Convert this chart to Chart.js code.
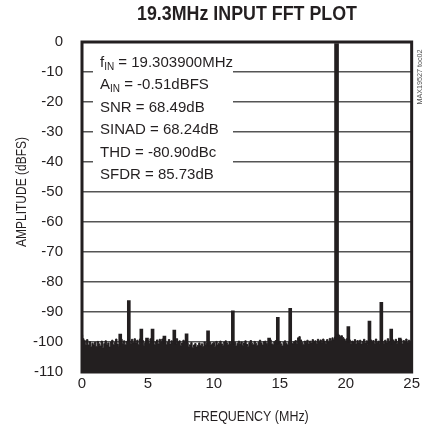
<!DOCTYPE html>
<html>
<head>
<meta charset="utf-8">
<script src="https://cdn.jsdelivr.net/npm/chart.js@4/dist/chart.umd.min.js"></script>
<style>
  html, body { margin: 0; padding: 0; background: #fff; }
</style>
</head>
<body>
<canvas id="fftChart" width="423" height="435"></canvas>
<script>
// FFT plot of a 19.3MHz input tone
const INK = '#231f20';
const SANS = "'Liberation Sans', Arial, Helvetica, sans-serif";

const xTickValues = [0, 5, 10, 15, 20, 25];
const yTickValues = [0, -10, -20, -30, -40, -50, -60, -70, -80, -90, -100, -110];

// fundamental tone
const fundFreq = 19.3039;
const fundLevel = -0.51;

// harmonics and spurs above the noise floor (MHz, dBFS)
const spurFreqs = [2.9, 3.55, 4.5, 4.93, 5.35, 6.25, 7.0, 7.93, 9.56, 11.44, 14.19, 14.85, 15.79, 20.2, 21.8, 22.7, 23.45, 24.1];
const spurLevels = [-97.4, -86.2, -95.7, -98.7, -95.7, -98.0, -96.0, -97.3, -96.3, -89.6, -98.7, -91.8, -88.8, -94.9, -93.0, -86.8, -95.7, -98.7];

// noise floor envelope, one value every 0.1MHz from 0 to 25MHz
const noiseStep = 0.1;
const noiseLevels = [
  -97.6, -98.9, -99.5, -100.8, -99.2, -101.0, -99.9, -101.6, -100.4, -100.9,
  -100.1, -101.5, -99.8, -100.6, -101.3, -99.7, -101.9, -100.5, -99.6, -101.0,
  -100.3, -101.7, -100.0, -99.4, -100.9, -100.2, -99.0, -100.7, -101.4, -99.7,
  -99.1, -100.5, -99.6, -100.9, -99.8, -99.2, -99.7, -100.6, -99.1, -100.2,
  -98.9, -100.3, -99.4, -100.8, -99.0, -99.9, -99.5, -101.1, -100.2, -99.3,
  -99.6, -100.5, -98.9, -100.1, -99.7, -100.9, -100.0, -99.3, -100.6, -99.1,
  -99.8, -99.0, -100.4, -99.5, -100.9, -100.1, -99.2, -100.7, -99.6, -100.3,
  -99.4, -100.7, -98.9, -100.0, -99.6, -101.2, -100.3, -99.4, -99.9, -99.1,
  -100.4, -101.6, -100.9, -100.2, -101.8, -101.0, -100.5, -101.7, -101.1, -100.3,
  -101.2, -100.6, -101.5, -100.0, -100.8, -100.4, -101.3, -100.1, -100.9, -100.5,
  -100.2, -101.4, -99.8, -101.0, -100.4, -99.7, -100.6, -101.2, -100.0, -99.6,
  -100.3, -100.9, -99.9, -100.5, -99.4, -100.7, -100.1, -101.3, -100.4, -99.7,
  -100.6, -100.0, -101.1, -100.3, -99.6, -100.7, -101.4, -100.2, -99.5, -100.4,
  -100.9, -99.8, -100.5, -101.2, -100.1, -99.4, -100.3, -101.0, -99.9, -99.7,
  -100.4, -101.1, -100.0, -99.3, -100.6, -100.8, -99.9, -99.5, -100.7, -100.2,
  -99.8, -100.6, -101.3, -100.1, -99.6, -100.4, -100.9, -100.0, -99.4, -100.3,
  -100.7, -99.9, -99.5, -100.5, -98.6, -98.2, -99.3, -100.2, -100.8, -99.7,
  -100.1, -99.4, -100.6, -99.7, -100.3, -99.2, -100.0, -99.6, -100.4, -99.1,
  -99.8, -99.3, -100.2, -99.0, -99.7, -100.5, -99.2, -99.9, -98.8, -99.4,
  -98.6, -99.2, -98.3, -97.8, -97.4, -97.7, -98.1, -97.9, -98.5, -99.0,
  -99.6, -98.9, -100.1, -99.3, -100.4, -99.7, -100.0, -99.2, -100.6, -99.5,
  -100.2, -99.4, -100.7, -99.8, -99.1, -100.3, -99.6, -100.8, -100.0, -99.3,
  -99.9, -99.5, -100.4, -99.0, -100.1, -99.7, -100.6, -99.2, -99.8, -100.5,
  -99.4, -100.2, -98.9, -100.0, -99.6, -100.7, -99.3, -99.9, -99.1, -100.4,
  -99.7, -100.3, -99.2, -100.6, -99.5, -100.0, -99.0, -100.2, -99.4, -99.8,
  -99.6
];

// measurement summary shown in the box: [main, subscript, rest]
const statLines = [
  ['f', 'IN', ' = 19.303900MHz'],
  ['A', 'IN', ' = -0.51dBFS'],
  ['SNR = 68.49dB', '', ''],
  ['SINAD = 68.24dB', '', ''],
  ['THD = -80.90dBc', '', ''],
  ['SFDR = 85.73dB', '', '']
];

const plotTitle = '19.3MHz INPUT FFT PLOT';
const xTitle = 'FREQUENCY (MHz)';
const yTitle = 'AMPLITUDE (dBFS)';
const docCode = 'MAX19527 toc02';

const noiseData = noiseLevels.map((v, i) => ({ x: i * noiseStep, y: v }));
const spurData = spurFreqs.map((f, i) => ({ x: f, y: [-110, spurLevels[i]] }));
const fundData = [{ x: fundFreq, y: [-110, fundLevel] }];

// draws text squeezed horizontally by sx (condensed look)
function squeezedText(ctx, text, x, y, font, sx, rot) {
  ctx.save();
  ctx.translate(x, y);
  if (rot) ctx.rotate(rot);
  ctx.scale(sx, 1);
  ctx.font = font;
  ctx.textAlign = 'center';
  ctx.textBaseline = 'middle';
  ctx.fillText(text, 0, 0);
  ctx.restore();
}

// title, frame, axis titles, stats box and side label
const decorPlugin = {
  id: 'decor',
  afterDraw(chart) {
    const ctx = chart.ctx;
    const a = chart.chartArea;
    ctx.save();
    ctx.fillStyle = INK;

    // frame
    ctx.strokeStyle = INK;
    ctx.lineWidth = 3;
    ctx.strokeRect(a.left, a.top, a.right - a.left, a.bottom - a.top);

    // chart title, fitted to 220px
    const titleFont = 'bold 20px ' + SANS;
    ctx.font = titleFont;
    const tw = ctx.measureText(plotTitle).width;
    squeezedText(ctx, plotTitle, 247, 14, titleFont, 220 / tw, 0);

    // axis titles
    squeezedText(ctx, xTitle, 251, 417, '15px ' + SANS, 0.83, 0);
    squeezedText(ctx, yTitle, 22, 192, '15px ' + SANS, 0.8, -Math.PI / 2);

    // stats box
    ctx.fillStyle = '#fff';
    ctx.fillRect(a.left + 11, 50, 140, 134);
    ctx.fillStyle = INK;
    ctx.textAlign = 'left';
    ctx.textBaseline = 'alphabetic';
    let y = 67;
    statLines.forEach(parts => {
      let x = 100;
      ctx.font = '15px ' + SANS;
      ctx.fillText(parts[0], x, y);
      x += ctx.measureText(parts[0]).width;
      if (parts[1]) {
        ctx.font = '10px ' + SANS;
        ctx.fillText(parts[1], x, y + 3);
        x += ctx.measureText(parts[1]).width;
      }
      ctx.font = '15px ' + SANS;
      ctx.fillText(parts[2], x, y);
      y += 22.4;
    });

    // document code on the right edge
    ctx.fillStyle = '#555';
    squeezedText(ctx, docCode, 420, 77, '8px ' + SANS, 0.9, -Math.PI / 2);

    ctx.restore();
  }
};

new Chart(document.getElementById('fftChart'), {
  type: 'line',
  data: {
    datasets: [
      {
        type: 'line',
        data: noiseData,
        stepped: 'middle',
        borderColor: INK,
        borderWidth: 1,
        backgroundColor: INK,
        pointRadius: 0,
        fill: 'start'
      },
      {
        type: 'bar',
        data: spurData,
        backgroundColor: INK,
        barThickness: 3,
        grouped: false
      },
      {
        type: 'bar',
        data: fundData,
        backgroundColor: INK,
        barThickness: 4,
        grouped: false
      }
    ]
  },
  plugins: [decorPlugin],
  options: {
    responsive: false,
    animation: false,
    layout: { padding: { top: 42, right: 9, bottom: 0, left: 0 } },
    plugins: {
      legend: { display: false },
      tooltip: { enabled: false }
    },
    scales: {
      x: {
        type: 'linear',
        min: 0,
        max: 25,
        offset: false,
        afterFit: s => { s.height = 63; },
        afterBuildTicks: s => { s.ticks = xTickValues.map(v => ({ value: v })); },
        grid: { display: false, drawTicks: false },
        border: { display: false },
        ticks: {
          padding: 3,
          color: INK,
          font: { family: SANS, size: 15 }
        }
      },
      y: {
        min: -110,
        max: 0,
        z: 1,
        afterFit: s => { s.width = 82; },
        afterBuildTicks: s => { s.ticks = yTickValues.map(v => ({ value: v })); },
        grid: { color: '#555', lineWidth: 1.5, drawTicks: false },
        border: { display: false },
        ticks: {
          padding: 19,
          color: INK,
          font: { family: SANS, size: 15 }
        }
      }
    }
  }
});
</script>
</body>
</html>
